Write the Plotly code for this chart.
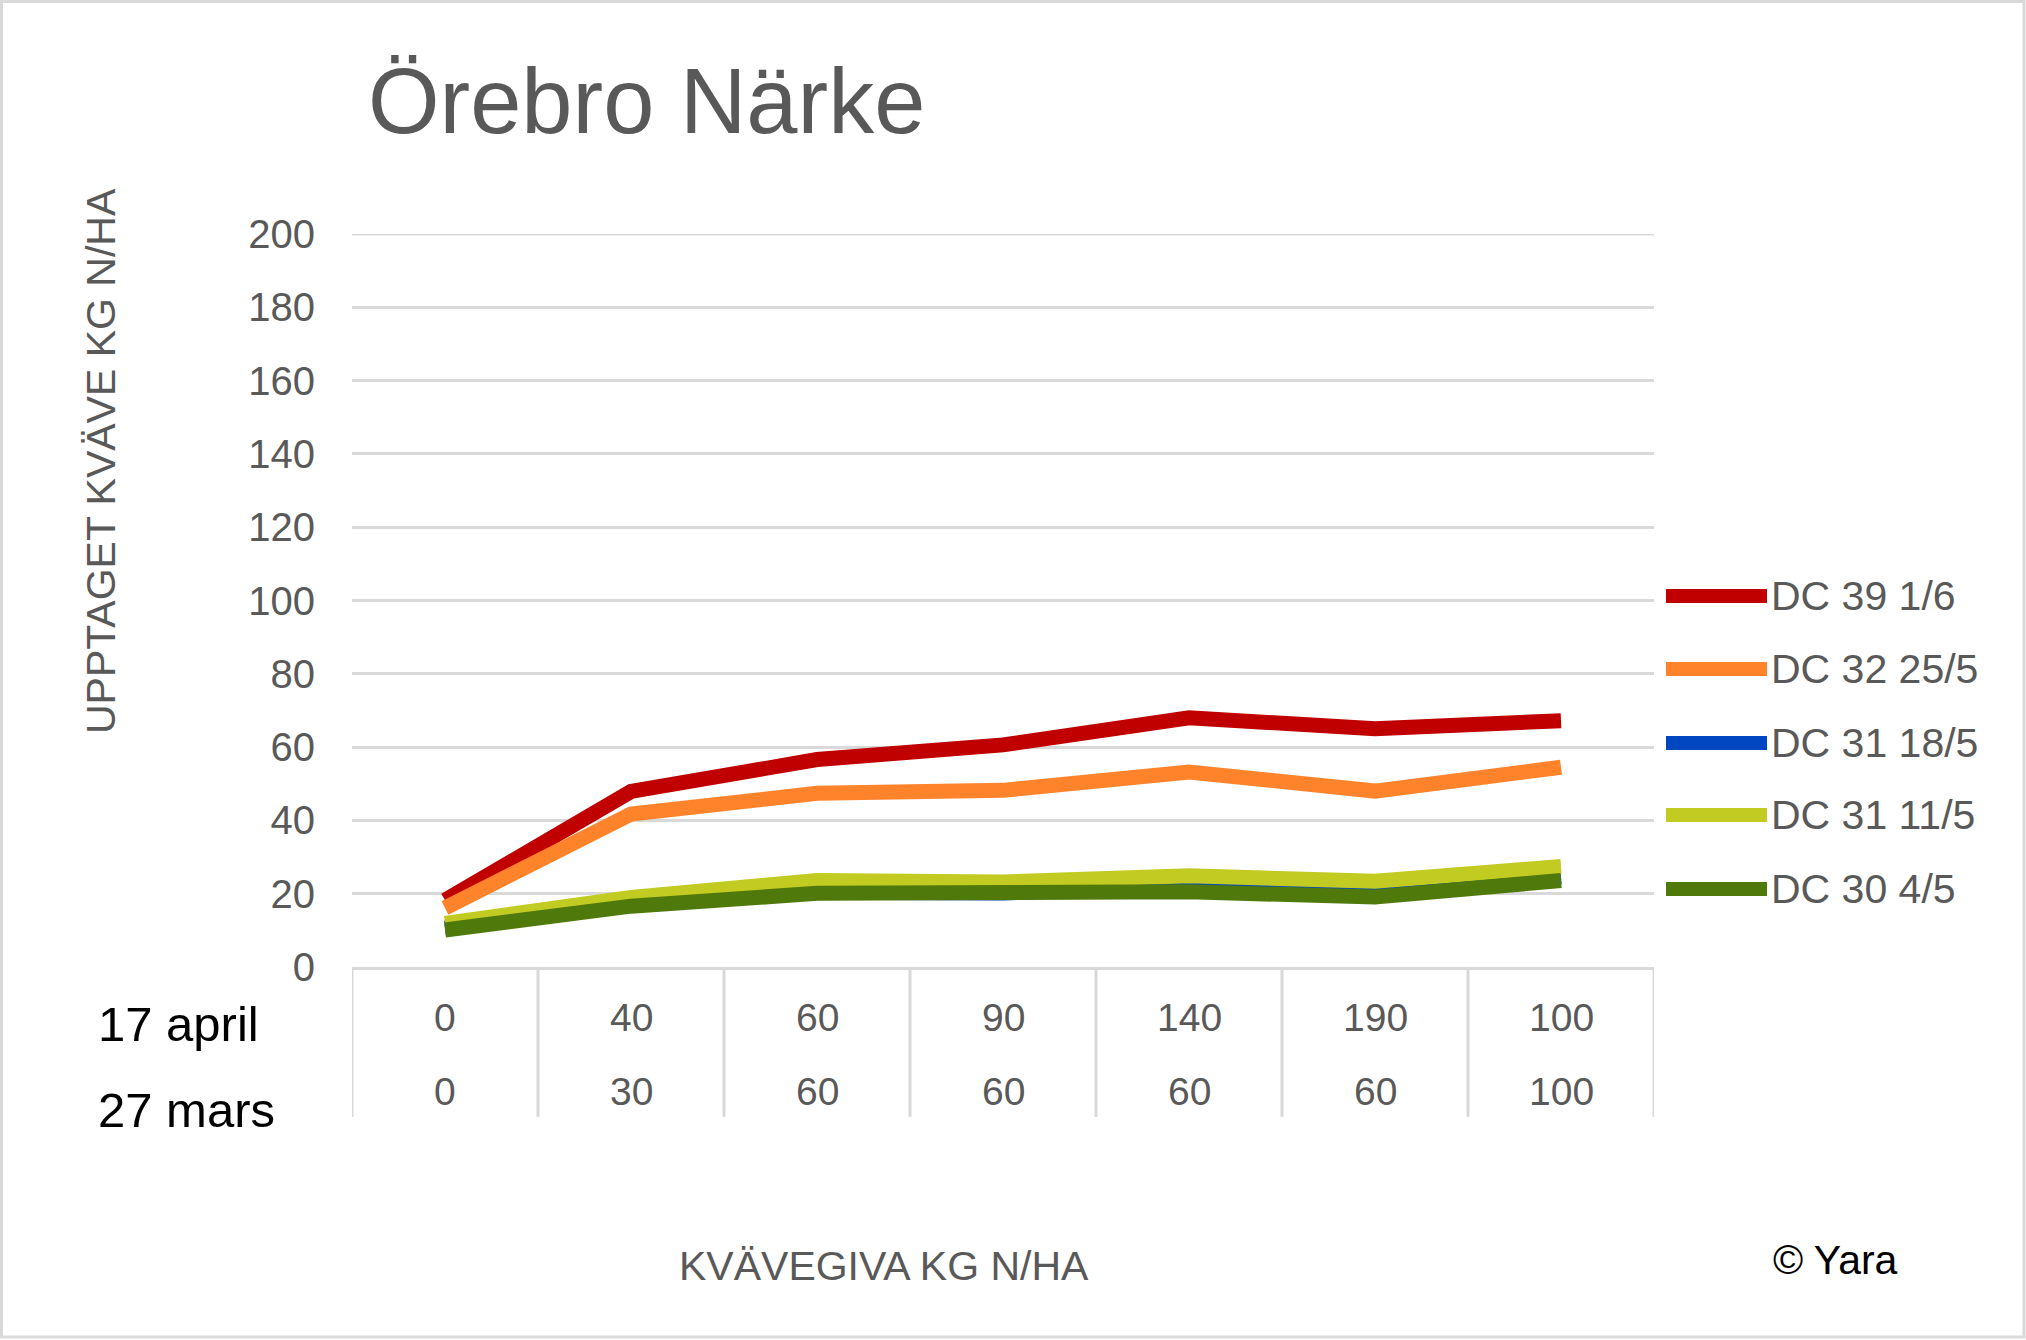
import plotly.graph_objects as go

# ---------------- data ----------------
giva_17_april = ["0", "40", "60", "90", "140", "190", "100"]
giva_27_mars = ["0", "30", "60", "60", "60", "60", "100"]
row_labels = ["17 april", "27 mars"]

series_names = ["DC 39 1/6", "DC 32 25/5", "DC 31 18/5", "DC 31 11/5", "DC 30 4/5"]
dc39_1_6 = [18.2, 47.9, 56.6, 60.6, 68.0, 65.0, 67.2]
dc32_25_5 = [16.1, 41.7, 47.4, 48.2, 53.2, 48.0, 54.5]
dc31_18_5 = [10.6, 16.9, 20.4, 20.2, 21.8, 19.8, 24.6]
dc31_11_5 = [11.9, 19.0, 23.6, 23.2, 24.9, 23.4, 27.4]
dc30_4_5 = [10.1, 16.6, 20.1, 19.9, 20.5, 19.1, 23.6]
series_values = [dc39_1_6, dc32_25_5, dc31_18_5, dc31_11_5, dc30_4_5]
series_colors = ["#C00000", "#FF832A", "#0047C1", "#C2CB21", "#4F790A"]

y_ticks = list(range(0, 201, 20))

title_text = "Örebro Närke"
y_title = "UPPTAGET KVÄVE KG N/HA"
x_title = "KVÄVEGIVA KG N/HA"
credit = "© Yara"

# ---------------- layout geometry ----------------
W, H = 2026, 1340
L, R, T, B = 352, 2026 - 1654, 234, 1340 - 967
PW, PH = W - L - R, H - T - B
FONT = "Liberation Sans, Arial, sans-serif"
GREY = "#595959"
GRID = "#D9D9D9"


def px(xp):
    return (xp - L) / PW


def py(yp):
    return (H - B - yp) / PH


fig = go.Figure()
for name, vals, col in zip(series_names, series_values, series_colors):
    fig.add_trace(go.Scatter(
        x=giva_17_april, y=vals, name=name, mode="lines",
        line=dict(color=col, width=15), showlegend=False,
    ))

shapes = []
annotations = []

# top gridline (plotly omits the one on the plot edge)
shapes.append(dict(type="line", xref="paper", yref="y", x0=0, x1=1,
                   y0=y_ticks[-1], y1=y_ticks[-1],
                   line=dict(color=GRID, width=3), layer="below"))

# category dividers below the axis
for i in range(len(giva_17_april) + 1):
    shapes.append(dict(type="line", xref="x", yref="paper",
                       x0=i - 0.5, x1=i - 0.5, y0=0, y1=py(1117),
                       line=dict(color=GRID, width=3), layer="below"))

# two rows of category labels
for i, (a, m) in enumerate(zip(giva_17_april, giva_27_mars)):
    annotations.append(dict(x=i, y=py(1017), xref="x", yref="paper", text=a,
                            showarrow=False, xanchor="center", yanchor="middle",
                            font=dict(family=FONT, size=39, color=GREY)))
    annotations.append(dict(x=i, y=py(1091), xref="x", yref="paper", text=m,
                            showarrow=False, xanchor="center", yanchor="middle",
                            font=dict(family=FONT, size=39, color=GREY)))

for lab, yy in zip(row_labels, [1024, 1110]):
    annotations.append(dict(x=px(96), y=py(yy), xref="paper", yref="paper", text=lab,
                            showarrow=False, xanchor="left", yanchor="middle",
                            font=dict(family=FONT, size=49, color="#000000")))

# title
annotations.append(dict(x=px(366), y=py(101), xref="paper", yref="paper", text=title_text,
                        showarrow=False, xanchor="left", yanchor="middle",
                        font=dict(family=FONT, size=92, color=GREY)))
# y axis title
annotations.append(dict(x=px(101), y=py(461), xref="paper", yref="paper", text=y_title,
                        showarrow=False, xanchor="center", yanchor="middle", textangle=-90,
                        font=dict(family=FONT, size=41, color=GREY)))
# x axis title
annotations.append(dict(x=px(884), y=py(1266), xref="paper", yref="paper", text=x_title,
                        showarrow=False, xanchor="center", yanchor="middle",
                        font=dict(family=FONT, size=41, color=GREY)))
# credit
annotations.append(dict(x=px(1771), y=py(1260), xref="paper", yref="paper", text=credit,
                        showarrow=False, xanchor="left", yanchor="middle",
                        font=dict(family=FONT, size=41, color="#000000")))

# legend (manual, long line samples)
leg_y = [596, 669, 743, 815, 889]
for name, col, yy in zip(series_names, series_colors, leg_y):
    shapes.append(dict(type="line", xref="paper", yref="paper",
                       x0=px(1666), x1=px(1767), y0=py(yy), y1=py(yy),
                       line=dict(color=col, width=14)))
    annotations.append(dict(x=px(1769), y=py(yy), xref="paper", yref="paper", text=name,
                            showarrow=False, xanchor="left", yanchor="middle",
                            font=dict(family=FONT, size=41, color=GREY)))

# outer border
shapes.append(dict(type="rect", xref="paper", yref="paper",
                   x0=px(1.5), x1=px(2024), y0=py(1.5), y1=py(1337),
                   line=dict(color=GRID, width=3), fillcolor="rgba(0,0,0,0)"))

fig.update_layout(
    width=W, height=H,
    margin=dict(l=L, r=R, t=T, b=B, pad=0),
    paper_bgcolor="white", plot_bgcolor="white",
    showlegend=False,
    shapes=shapes, annotations=annotations,
    font=dict(family=FONT, color=GREY),
    xaxis=dict(type="category", categoryorder="array", categoryarray=giva_17_april,
               range=[-0.5, len(giva_17_april) - 0.5],
               showgrid=False, zeroline=False, showline=True, linecolor=GRID, linewidth=3,
               showticklabels=False, ticks="", fixedrange=True),
    yaxis=dict(range=[0, 200], tickvals=y_ticks, showgrid=True, gridcolor=GRID, gridwidth=3,
               zeroline=False, showline=False, ticks="",
               tickfont=dict(family=FONT, size=40, color=GREY),
               ticklabelstandoff=36, fixedrange=True),
)

fig.write_html("out.html")
